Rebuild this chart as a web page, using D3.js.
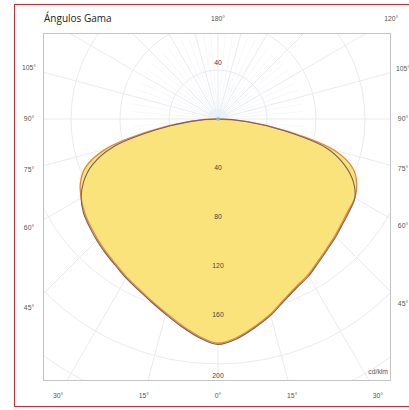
<!DOCTYPE html>
<html>
<head>
<meta charset="utf-8">
<script src="https://cdn.jsdelivr.net/npm/d3@7"></script>
<style>
  html, body { margin: 0; padding: 0; background: #fff; }
  svg { display: block; }
  .lbl { font-family: "Liberation Sans", Arial, sans-serif; font-size: 6.8px; fill: #555; }
  .ringlbl { fill: #444; }
  #title { font-family: "Open Sans", sans-serif; font-size: 10px; fill: #222; }
</style>
</head>
<body>
<div id="container"></div>
<script>
// gamma angles (deg from nadir) and intensities in cd/klm
const gammas = [0, 5, 10, 15, 20, 25, 30, 35, 40, 45, 50, 55, 60, 65, 70, 75, 80, 85, 90];
const c90Left  = [184, 179, 172, 165, 159, 154, 150, 146, 143, 140, 137, 134, 129, 121, 109, 89, 52, 22, 0];
const c90Right = [184, 180, 173, 166, 158, 152, 148, 143, 139, 136, 133, 131, 129, 122, 110, 92, 55, 23, 0];
const c0Left   = [183, 178, 171, 164, 158, 153, 149, 145, 142, 139, 136, 133, 129, 124, 115, 95, 56, 23, 0];
const c0Right  = [183, 179, 172, 165, 157, 151, 147, 142, 138, 135, 132, 130, 129, 125, 117, 98, 58, 24, 0];

const ringValues = [40, 80, 120, 160, 200, 240, 280];
const ringLabels = [40, 80, 120, 160, 200];
const sideAngles = [105, 90, 75, 60, 45];
const bottomAngles = [30, 15, 0, 15, 30];
const bottomSigns = [-1, -1, 0, 1, 1];

const width = 409, height = 410;
const box = { x0: 43, y0: 33, x1: 390, y1: 380 };
const cx = 218, cy = 119;

const r = d3.scaleLinear().domain([0, 40]).range([0, 49]);
const rad = d => d * Math.PI / 180;

const svg = d3.select("#container").append("svg")
  .attr("width", width).attr("height", height);

// outer red frame
svg.append("rect")
  .attr("x", 14.5).attr("y", 4.5).attr("width", 420).attr("height", 402)
  .attr("fill", "none").attr("stroke", "#e3262d").attr("stroke-width", 1);

svg.append("clipPath").attr("id", "clip")
  .append("rect")
  .attr("x", box.x0).attr("y", box.y0)
  .attr("width", box.x1 - box.x0).attr("height", box.y1 - box.y0);

const grid = svg.append("g").attr("clip-path", "url(#clip)")
  .append("g")
  .attr("transform", `translate(${cx},${cy})`);

// faint 5 degree lines near the centre
grid.selectAll("line.minor")
  .data(d3.range(0, 360, 5).filter(a => a % 15 !== 0))
  .enter().append("line")
  .attr("x1", d => r(6) * Math.sin(rad(d)))
  .attr("y1", d => r(6) * Math.cos(rad(d)))
  .attr("x2", d => r(70) * Math.sin(rad(d)))
  .attr("y2", d => r(70) * Math.cos(rad(d)))
  .attr("stroke", "#eef1f6").attr("stroke-width", 0.6);

grid.selectAll("line.major")
  .data(d3.range(0, 360, 15))
  .enter().append("line")
  .attr("x1", 0).attr("y1", 0)
  .attr("x2", d => r(400) * Math.sin(rad(d)))
  .attr("y2", d => r(400) * Math.cos(rad(d)))
  .attr("stroke", "#e4e6eb").attr("stroke-width", 0.8);

grid.selectAll("circle.ring")
  .data(ringValues)
  .enter().append("circle")
  .attr("r", d => r(d))
  .attr("fill", "none")
  .attr("stroke", "#e4e6eb").attr("stroke-width", 0.8);

// light blue glow at the centre
grid.append("circle").attr("r", 10).attr("fill", "#e4f0fb").attr("opacity", 0.7);

// curves
const toPoints = (left, right) => {
  const pts = [];
  gammas.forEach((g, i) => {
    if (i < gammas.length - 1) pts.push({ a: Math.PI - rad(g), v: right[i] });
  });
  pts.push({ a: Math.PI / 2, v: 0 });
  for (let i = gammas.length - 2; i >= 1; i--) {
    pts.push({ a: Math.PI + rad(gammas[i]), v: left[i] });
  }
  return pts;
};

const line = d3.lineRadial()
  .angle(d => d.a)
  .radius(d => r(d.v))
  .curve(d3.curveCatmullRomClosed.alpha(0.5));

const plot = svg.append("g").attr("transform", `translate(${cx},${cy})`);

const c0 = toPoints(c0Left, c0Right);
const c90 = toPoints(c90Left, c90Right);

plot.append("path").attr("d", line(c0)).attr("fill", "#fae37a");
plot.append("path").attr("d", line(c90)).attr("fill", "#fae37a");
plot.append("path").attr("d", line(c0))
  .attr("fill", "none").attr("stroke", "#e0893a").attr("stroke-width", 1.3);
plot.append("path").attr("d", line(c90))
  .attr("fill", "none").attr("stroke", "#76606a").attr("stroke-width", 1.1);

plot.append("circle").attr("r", 2).attr("fill", "#8fb9e0").attr("opacity", 0.8);

// box
svg.append("rect")
  .attr("x", box.x0 + 0.5).attr("y", box.y0 + 0.5)
  .attr("width", box.x1 - box.x0).attr("height", box.y1 - box.y0)
  .attr("fill", "none").attr("stroke", "#c4c4c4").attr("stroke-width", 1);

// ring labels
svg.selectAll("text.ring")
  .data(ringLabels)
  .enter().append("text")
  .attr("class", "lbl ringlbl")
  .attr("text-anchor", "middle")
  .attr("x", cx)
  .attr("y", (d, i) => i === ringLabels.length - 1 ? box.y1 - 2 : cy + r(d) + 2)
  .text(d => d);

svg.append("text").attr("class", "lbl ringlbl").attr("text-anchor", "middle")
  .attr("x", cx).attr("y", cy - r(40) - 5).text(ringLabels[0]);

// angle labels on the sides
const sides = [{ x: 29, s: -1 }, { x: 403, s: 1 }];
sides.forEach(side => {
  svg.selectAll(null)
    .data(sideAngles)
    .enter().append("text")
    .attr("class", "lbl")
    .attr("text-anchor", "middle")
    .attr("x", side.x)
    .attr("y", d => cy + Math.abs(side.x - cx) / Math.tan(rad(d)) + 2)
    .text(d => `${d}°`);
});

svg.selectAll("text.bottom")
  .data(bottomAngles)
  .enter().append("text")
  .attr("class", "lbl")
  .attr("text-anchor", "middle")
  .attr("x", (d, i) => cx + bottomSigns[i] * (396 - cy) * Math.tan(rad(d)))
  .attr("y", 398)
  .text(d => `${d}°`);

svg.append("text").attr("class", "lbl").attr("text-anchor", "middle")
  .attr("x", cx).attr("y", 21).text("180°");
svg.append("text").attr("class", "lbl").attr("text-anchor", "middle")
  .attr("x", cx + (cy - 19) * Math.tan(rad(60))).attr("y", 21).text("120°");

svg.append("text").attr("class", "lbl").attr("text-anchor", "end")
  .attr("x", box.x1 - 2).attr("y", box.y1 - 6).text("cd/klm");

svg.append("text").attr("id", "title").attr("x", 44).attr("y", 22).text("Ángulos Gama");
</script>
</body>
</html>
